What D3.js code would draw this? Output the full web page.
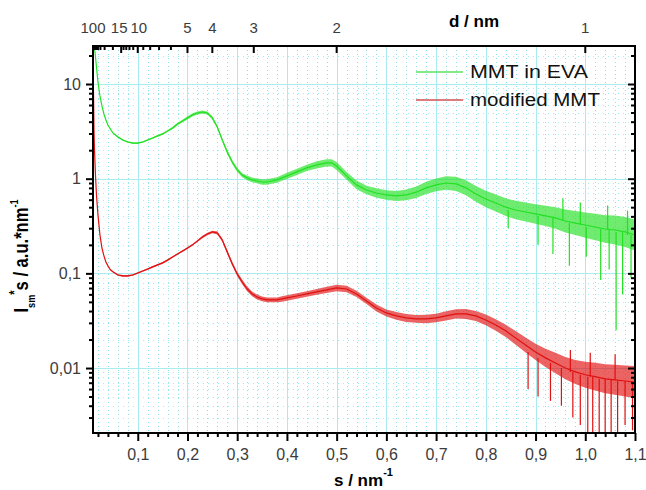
<!DOCTYPE html>
<html>
<head>
<meta charset="utf-8">
<script src="https://cdn.jsdelivr.net/npm/d3@7"></script>
<style>
  body { margin: 0; background: #fff; }
  text { font-family: "Liberation Sans", Arial, sans-serif; }
</style>
</head>
<body>
<div id="graph"></div>
<script>
// s values (nm^-1) for the MMT in EVA curve
const greenS = [0.012, 0.014, 0.016, 0.018, 0.020, 0.024, 0.028, 0.032, 0.036, 0.040, 0.045, 0.05,
  0.06, 0.07, 0.08, 0.09, 0.10, 0.11, 0.12, 0.13, 0.14, 0.15, 0.16, 0.17, 0.18, 0.19, 0.20,
  0.21, 0.22, 0.23, 0.24, 0.25, 0.26, 0.27, 0.28, 0.29, 0.30, 0.31, 0.32, 0.33, 0.34, 0.35,
  0.36, 0.37, 0.38, 0.39, 0.40, 0.42, 0.44, 0.46, 0.48, 0.49, 0.50, 0.52, 0.54, 0.56, 0.58,
  0.60, 0.62, 0.64, 0.66, 0.68, 0.70, 0.72, 0.74, 0.76, 0.78, 0.80, 0.82, 0.84, 0.86, 0.88,
  0.90, 0.92, 0.94, 0.96, 0.98, 1.00, 1.02, 1.04, 1.06, 1.08, 1.10];
const greenI = [25.2, 21.8, 17.1, 13.4, 10.5, 7.47, 5.86, 4.82, 4.17, 3.69, 3.35, 3.04,
  2.76, 2.56, 2.44, 2.38, 2.38, 2.44, 2.56, 2.69, 2.83, 2.97, 3.19, 3.43, 3.78, 4.07, 4.38,
  4.71, 4.94, 5.06, 4.94, 4.38, 3.52, 2.56, 1.91, 1.50, 1.24, 1.09, 1.02, 0.97, 0.946, 0.923,
  0.923, 0.946, 0.97, 1.02, 1.07, 1.18, 1.30, 1.40, 1.47, 1.47, 1.36, 1.07, 0.86, 0.76, 0.706,
  0.673, 0.657, 0.673, 0.72, 0.80, 0.86, 0.90, 0.88, 0.80, 0.69, 0.61, 0.554, 0.50, 0.467, 0.445,
  0.424, 0.404, 0.385, 0.357, 0.340, 0.324, 0.309, 0.294, 0.287, 0.274, 0.254];
// width of the noise band (max / value)
const greenBand = [1, 1, 1, 1, 1, 1, 1, 1, 1.01, 1.01, 1.01, 1.01,
  1.02, 1.02, 1.02, 1.02, 1.02, 1.02, 1.02, 1.02, 1.02, 1.02, 1.02, 1.03, 1.03, 1.03, 1.04,
  1.04, 1.04, 1.04, 1.04, 1.04, 1.04, 1.04, 1.05, 1.05, 1.05, 1.05, 1.06, 1.06, 1.06, 1.07,
  1.07, 1.07, 1.07, 1.07, 1.08, 1.08, 1.08, 1.09, 1.09, 1.09, 1.10, 1.10, 1.11, 1.11, 1.12,
  1.12, 1.13, 1.14, 1.15, 1.16, 1.17, 1.18, 1.19, 1.20, 1.21, 1.22, 1.23, 1.24, 1.25, 1.26,
  1.27, 1.28, 1.30, 1.32, 1.34, 1.36, 1.38, 1.40, 1.42, 1.44, 1.46];
// single noise spikes (both directions)
const greenSpikeS = [0.845, 0.905, 0.935, 0.955, 0.968, 0.99, 1.002, 1.031, 1.045, 1.048, 1.062, 1.075, 1.085, 1.092];
const greenSpikeI = [0.30, 0.20, 0.16, 0.62, 0.12, 0.56, 0.15, 0.085, 0.52, 0.11, 0.025, 0.06, 0.46, 0.09];

// s values for the modified MMT curve
const redS = [0.011, 0.012, 0.013, 0.015, 0.017, 0.020, 0.024, 0.028, 0.032, 0.036, 0.040, 0.045, 0.05,
  0.06, 0.07, 0.08, 0.09, 0.10, 0.11, 0.12, 0.13, 0.14, 0.15, 0.16, 0.17, 0.18, 0.19, 0.20,
  0.21, 0.22, 0.23, 0.24, 0.25, 0.26, 0.27, 0.28, 0.29, 0.30, 0.31, 0.32, 0.33, 0.34, 0.35,
  0.36, 0.37, 0.38, 0.39, 0.40, 0.42, 0.44, 0.46, 0.48, 0.50, 0.52, 0.54, 0.56, 0.58,
  0.60, 0.62, 0.64, 0.66, 0.68, 0.70, 0.72, 0.74, 0.76, 0.78, 0.80, 0.82, 0.84, 0.86, 0.88,
  0.90, 0.92, 0.94, 0.96, 0.98, 1.00, 1.02, 1.04, 1.06, 1.08, 1.10];
const redI = [8.24, 3.27, 2.01, 1.09, 0.673, 0.414, 0.254, 0.185, 0.153, 0.132, 0.120, 0.109, 0.104,
  0.096, 0.094, 0.094, 0.096, 0.101, 0.106, 0.111, 0.117, 0.123, 0.129, 0.138, 0.149, 0.160, 0.172, 0.185,
  0.200, 0.220, 0.242, 0.261, 0.274, 0.267, 0.225, 0.168, 0.126, 0.0986, 0.0811, 0.0684, 0.0606, 0.0563, 0.0537,
  0.0524, 0.0524, 0.0524, 0.0537, 0.0550, 0.0577, 0.0606, 0.0637, 0.0668, 0.0701, 0.0684, 0.0606, 0.0512, 0.0431,
  0.0382, 0.0355, 0.0338, 0.0330, 0.0330, 0.0338, 0.0355, 0.0373, 0.0373, 0.0355, 0.0322, 0.0285, 0.0247, 0.0208, 0.0175,
  0.0148, 0.0128, 0.0113, 0.0100, 0.0091, 0.0085, 0.0081, 0.0077, 0.0075, 0.0073, 0.0071];
const redBand = [1, 1, 1, 1, 1, 1, 1, 1, 1, 1.01, 1.01, 1.01, 1.01,
  1.02, 1.02, 1.02, 1.02, 1.02, 1.02, 1.02, 1.02, 1.02, 1.02, 1.02, 1.02, 1.02, 1.02, 1.02,
  1.02, 1.02, 1.03, 1.03, 1.03, 1.04, 1.04, 1.05, 1.05, 1.05, 1.06, 1.06, 1.06, 1.06, 1.06,
  1.06, 1.06, 1.06, 1.07, 1.07, 1.07, 1.07, 1.07, 1.08, 1.08, 1.08, 1.08, 1.08, 1.09,
  1.09, 1.10, 1.10, 1.10, 1.11, 1.11, 1.12, 1.12, 1.13, 1.13, 1.14, 1.15, 1.16, 1.18, 1.20,
  1.22, 1.25, 1.28, 1.31, 1.34, 1.37, 1.40, 1.42, 1.44, 1.46, 1.48];
const redSpikeS = [0.885, 0.905, 0.93, 0.952, 0.97, 0.975, 0.99, 1.005, 1.01, 1.015, 1.028, 1.04, 1.052, 1.06, 1.065, 1.08, 1.095];
const redSpikeI = [0.006, 0.005, 0.0045, 0.004, 0.0155, 0.003, 0.0025, 0.0015, 0.0145, 0.0015, 0.0015, 0.0015, 0.0015, 0.014, 0.002, 0.0025, 0.0022];

// axis ticks
const sMajor = [0.1, 0.2, 0.3, 0.4, 0.5, 0.6, 0.7, 0.8, 0.9, 1.0, 1.1];
const sMinor = [0.02, 0.04, 0.06, 0.08, 0.12, 0.14, 0.16, 0.18, 0.22, 0.24, 0.26, 0.28,
  0.32, 0.34, 0.36, 0.38, 0.42, 0.44, 0.46, 0.48, 0.52, 0.54, 0.56, 0.58,
  0.62, 0.64, 0.66, 0.68, 0.72, 0.74, 0.76, 0.78, 0.82, 0.84, 0.86, 0.88,
  0.92, 0.94, 0.96, 0.98, 1.02, 1.04, 1.06, 1.08];
const iMajor = [0.01, 0.1, 1, 10];
const iMinor = [0.003, 0.004, 0.005, 0.006, 0.007, 0.008, 0.009,
  0.02, 0.03, 0.04, 0.05, 0.06, 0.07, 0.08, 0.09,
  0.2, 0.3, 0.4, 0.5, 0.6, 0.7, 0.8, 0.9,
  2, 3, 4, 5, 6, 7, 8, 9, 20];
const dMajor = [100, 15, 10, 5, 4, 3, 2, 1];
const dMinor = [90, 80, 70, 60, 50, 40, 30, 20, 14, 13, 12, 11, 9, 8, 7, 6];

const width = 646;
const height = 490;
const margins = { top: 46, right: 11, bottom: 57, left: 93 };

const x = d3.scaleLinear()
    .domain([0.01, 1.1])
    .range([margins.left, width - margins.right]);

const y = d3.scaleLog()
    .domain([0.00206, 25.2])
    .range([height - margins.bottom, margins.top]);

const svg = d3.select("#graph").append("svg")
    .attr("width", width)
    .attr("height", height);

const px = v => Math.round(v) + 0.5;

// minor grid (dotted cyan)
svg.selectAll("line.vMinor")
    .data(sMinor)
    .enter().append("line")
    .attr("x1", d => px(x(d))).attr("x2", d => px(x(d)))
    .attr("y1", margins.top).attr("y2", height - margins.bottom)
    .attr("stroke", "#8ee4ea")
    .attr("stroke-dasharray", "1,3");

svg.selectAll("line.hMinor")
    .data(iMinor)
    .enter().append("line")
    .attr("x1", margins.left).attr("x2", width - margins.right)
    .attr("y1", d => px(y(d))).attr("y2", d => px(y(d)))
    .attr("stroke", "#a6ebef")
    .attr("stroke-dasharray", "1,4");

// major grid
svg.selectAll("line.vMajor")
    .data(sMajor)
    .enter().append("line")
    .attr("x1", d => px(x(d))).attr("x2", d => px(x(d)))
    .attr("y1", margins.top).attr("y2", height - margins.bottom)
    .attr("stroke", "#a8ecf0");

svg.selectAll("line.hMajor")
    .data(iMajor)
    .enter().append("line")
    .attr("x1", margins.left).attr("x2", width - margins.right)
    .attr("y1", d => px(y(d))).attr("y2", d => px(y(d)))
    .attr("stroke", "#a8ecf0");

// clip for curves
svg.append("clipPath").attr("id", "clip")
    .append("rect")
    .attr("x", margins.left).attr("y", margins.top)
    .attr("width", width - margins.left - margins.right)
    .attr("height", height - margins.top - margins.bottom);

function drawSeries(sArr, iArr, band, spikeS, spikeI, color) {
    const g = svg.append("g").attr("clip-path", "url(#clip)");
    const pts = sArr.map((s, k) => ({ s: s, v: iArr[k], b: band[k] }));

    // noise band
    g.append("path")
        .datum(pts)
        .attr("d", d3.area()
            .x(d => x(d.s))
            .y0(d => y(d.v / d.b))
            .y1(d => y(d.v * d.b)))
        .attr("fill", color)
        .attr("fill-opacity", 0.65);

    g.append("path")
        .datum(pts)
        .attr("d", d3.line().x(d => x(d.s)).y(d => y(d.v)))
        .attr("stroke", color)
        .attr("stroke-width", 1.2)
        .attr("fill", "none");

    // single spikes from the curve
    g.selectAll("line.spike")
        .data(spikeS)
        .enter().append("line")
        .attr("x1", d => x(d)).attr("x2", d => x(d))
        .attr("y1", (d, k) => y(spikeI[k]))
        .attr("y2", d => {
            const k = d3.bisectLeft(sArr, d);
            return y(iArr[Math.min(k, iArr.length - 1)]);
        })
        .attr("stroke", color)
        .attr("stroke-width", 1.2);
}

drawSeries(greenS, greenI, greenBand, greenSpikeS, greenSpikeI, "#22e022");
drawSeries(redS, redI, redBand, redSpikeS, redSpikeI, "#e01010");

// frame
svg.append("rect")
    .attr("x", margins.left).attr("y", margins.top)
    .attr("width", width - margins.left - margins.right)
    .attr("height", height - margins.top - margins.bottom)
    .attr("fill", "none")
    .attr("stroke", "black")
    .attr("stroke-width", 2);

const tickFont = "16px";
const tickColor = "#3c3c3c";

// bottom axis
const xAxis = svg.append("g")
    .attr("transform", "translate(0," + (height - margins.bottom) + ")");
xAxis.call(d3.axisBottom(x).tickValues(sMinor).tickSize(4).tickFormat(""));
xAxis.append("g").call(d3.axisBottom(x).tickValues(sMajor).tickSize(8)
    .tickFormat(d => d3.format(".1f")(d).replace(".", ",")));
xAxis.selectAll(".domain").remove();
xAxis.selectAll("line").attr("stroke-width", 2);
xAxis.selectAll("text").style("font-size", tickFont).attr("fill", tickColor).attr("dy", "1.0em");

// left axis
const yAxis = svg.append("g")
    .attr("transform", "translate(" + margins.left + ",0)");
yAxis.call(d3.axisLeft(y).tickValues(iMinor).tickSize(4).tickFormat(""));
yAxis.append("g").call(d3.axisLeft(y).tickValues(iMajor).tickSize(7)
    .tickFormat(d => String(d).replace(".", ",")));
yAxis.selectAll(".domain").remove();
yAxis.selectAll("line").attr("stroke-width", 2);
yAxis.selectAll("text").style("font-size", tickFont).attr("fill", tickColor).attr("x", -12);

// right axis, ticks inward
const rAxis = svg.append("g")
    .attr("transform", "translate(" + (width - margins.right) + ",0)");
rAxis.call(d3.axisLeft(y).tickValues(iMinor).tickSize(4).tickFormat(""));
rAxis.append("g").call(d3.axisLeft(y).tickValues(iMajor).tickSize(7).tickFormat(""));
rAxis.selectAll(".domain").remove();
rAxis.selectAll("line").attr("stroke-width", 2);

// top axis in d = 1/s, ticks inward
const tAxis = svg.append("g")
    .attr("transform", "translate(0," + margins.top + ")");
tAxis.selectAll("line.dMinor")
    .data(dMinor)
    .enter().append("line")
    .attr("x1", d => x(1 / d)).attr("x2", d => x(1 / d))
    .attr("y1", 0).attr("y2", 4)
    .attr("stroke", "black").attr("stroke-width", 2);
tAxis.selectAll("line.dMajor")
    .data(dMajor)
    .enter().append("line")
    .attr("x1", d => x(1 / d)).attr("x2", d => x(1 / d))
    .attr("y1", 0).attr("y2", 7)
    .attr("stroke", "black").attr("stroke-width", 2);
tAxis.selectAll("text.dLabel")
    .data(dMajor)
    .enter().append("text")
    .attr("x", d => x(1 / d) + (d === 15 ? -2 : d === 10 ? 1 : 0))
    .attr("y", -13)
    .attr("text-anchor", "middle")
    .style("font-size", "15px")
    .attr("fill", tickColor)
    .text(d => d);

// axis titles
svg.append("text")
    .attr("x", 334).attr("y", 486)
    .style("font-size", "17px").style("font-weight", "bold")
    .text("s / nm")
    .append("tspan").attr("dy", -10).style("font-size", "11px").text("-1");

svg.append("text")
    .attr("x", 474).attr("y", 27)
    .attr("text-anchor", "middle")
    .style("font-size", "17px").style("font-weight", "bold")
    .text("d / nm");

const yTitle = svg.append("text")
    .attr("transform", "translate(28,256) rotate(-90) scale(0.92,1.15)")
    .attr("text-anchor", "middle")
    .style("font-size", "18px").style("font-weight", "bold");
yTitle.append("tspan").text("I");
yTitle.append("tspan").attr("dy", 6).style("font-size", "10px").text("sm");
yTitle.append("tspan").attr("dy", -14).style("font-size", "12px").text("*");
yTitle.append("tspan").attr("dy", 8).text("s / a.u.*nm");
yTitle.append("tspan").attr("dy", -9).style("font-size", "10px").text("-1");

// legend
const legendNames = ["MMT in EVA", "modified MMT"];
const legendColors = ["#5ee05e", "#d05050"];
const legendWidths = [118, 130];
const legend = svg.selectAll(".legend")
    .data(legendNames)
    .enter().append("g")
    .attr("class", "legend")
    .attr("transform", (d, k) => "translate(0," + (72 + k * 28) + ")");
legend.append("line")
    .attr("x1", 416).attr("x2", 463)
    .attr("stroke", (d, k) => legendColors[k])
    .attr("stroke-width", 1.5);
legend.append("text")
    .attr("x", 470).attr("y", 6)
    .style("font-size", "18px")
    .attr("textLength", (d, k) => legendWidths[k])
    .attr("lengthAdjust", "spacingAndGlyphs")
    .attr("fill", "#111")
    .text(d => d);
</script>
</body>
</html>
